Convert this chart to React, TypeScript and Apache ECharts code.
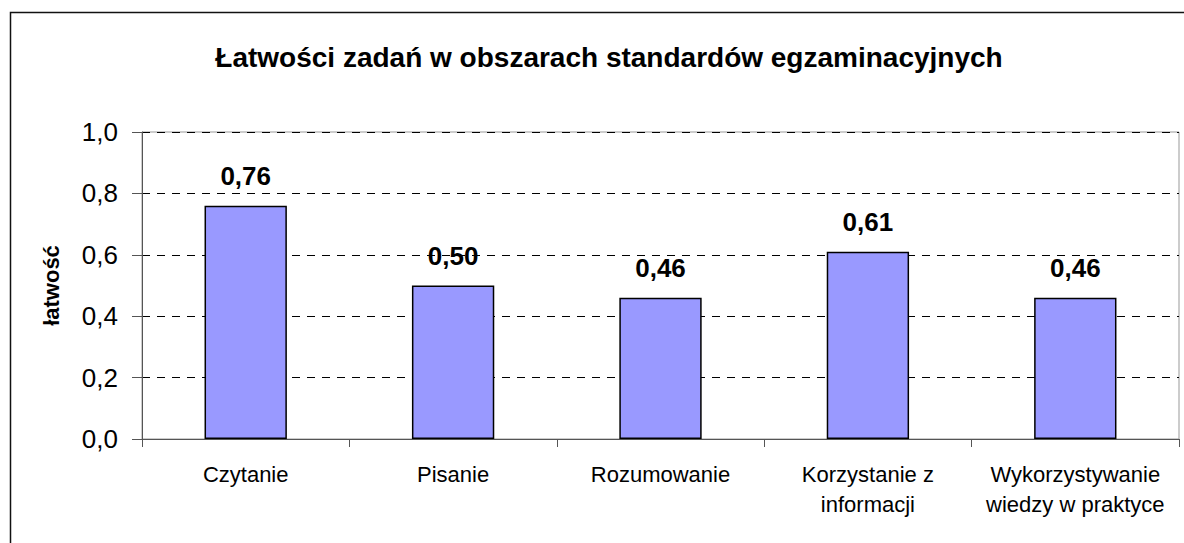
import React, { useEffect, useRef } from "react";
import * as echarts from "echarts";

const titleText = "Łatwości zadań w obszarach standardów egzaminacyjnych";
const yAxisName = "łatwość";
const categories = [
  "Czytanie",
  "Pisanie",
  "Rozumowanie",
  "Korzystanie z\ninformacji",
  "Wykorzystywanie\nwiedzy w praktyce",
];
const values = [0.76, 0.5, 0.46, 0.61, 0.46];

const FONT = "'Liberation Sans', Arial, Helvetica, sans-serif";
const fmt = (v: number, d: number) => v.toFixed(d).replace(".", ",");

export default function App() {
  const ref = useRef<HTMLDivElement>(null);
  useEffect(() => {
    if (!ref.current) return;
    const chart = echarts.init(ref.current, undefined, { renderer: "svg" });
    chart.setOption({
      animation: false,
      backgroundColor: "#ffffff",
      graphic: [
        {
          type: "rect",
          shape: { x: 10.5, y: 12.5, width: 1190, height: 545 },
          style: { fill: "none", stroke: "#111", lineWidth: 1.5 },
          silent: true,
          z: 100,
        },
      ],
      title: {
        text: titleText,
        left: 604,
        textAlign: "center",
        top: 38,
        textStyle: {
          fontFamily: FONT,
          fontSize: 28,
          fontWeight: "bold",
          color: "#000",
        },
      },
      grid: {
        left: 142,
        top: 132,
        right: 5,
        bottom: 104,
        show: true,
        borderColor: "#999",
        borderWidth: 1,
        containLabel: false,
      },
      xAxis: {
        type: "category",
        data: categories,
        axisLine: { show: true, lineStyle: { color: "#555", width: 1 } },
        axisTick: { show: true, length: 8, lineStyle: { color: "#555" } },
        axisLabel: {
          interval: 0,
          margin: 20,
          fontFamily: FONT,
          fontSize: 22,
          lineHeight: 30,
          color: "#000",
        },
        splitLine: { show: false },
      },
      yAxis: {
        type: "value",
        min: 0,
        max: 1,
        interval: 0.2,
        name: yAxisName,
        nameLocation: "middle",
        nameGap: 80,
        nameRotate: 90,
        nameTextStyle: {
          fontFamily: FONT,
          fontSize: 22,
          fontWeight: "bold",
          color: "#000",
        },
        axisLine: { show: true, lineStyle: { color: "#555", width: 1 } },
        axisTick: { show: true, length: 10, lineStyle: { color: "#555" } },
        axisLabel: {
          margin: 24,
          fontFamily: FONT,
          fontSize: 26,
          color: "#000",
          formatter: (v: number) => fmt(v, 1),
        },
        splitLine: {
          show: true,
          lineStyle: { color: "#000", type: [8, 7], width: 1 },
        },
      },
      series: [
        {
          type: "bar",
          data: values,
          barWidth: "39.7%",
          itemStyle: {
            color: "#9999FF",
            borderColor: "#000",
            borderWidth: 1.5,
          },
          label: {
            show: true,
            position: "top",
            distance: 17,
            fontFamily: FONT,
            fontSize: 26,
            fontWeight: "bold",
            color: "#000",
            formatter: (p: any) => fmt(p.value, 2),
          },
        },
      ],
    });
    return () => chart.dispose();
  }, []);
  return (
    <div
      ref={ref}
      style={{ position: "fixed", left: 0, top: 0, width: 1184, height: 543 }}
    />
  );
}
